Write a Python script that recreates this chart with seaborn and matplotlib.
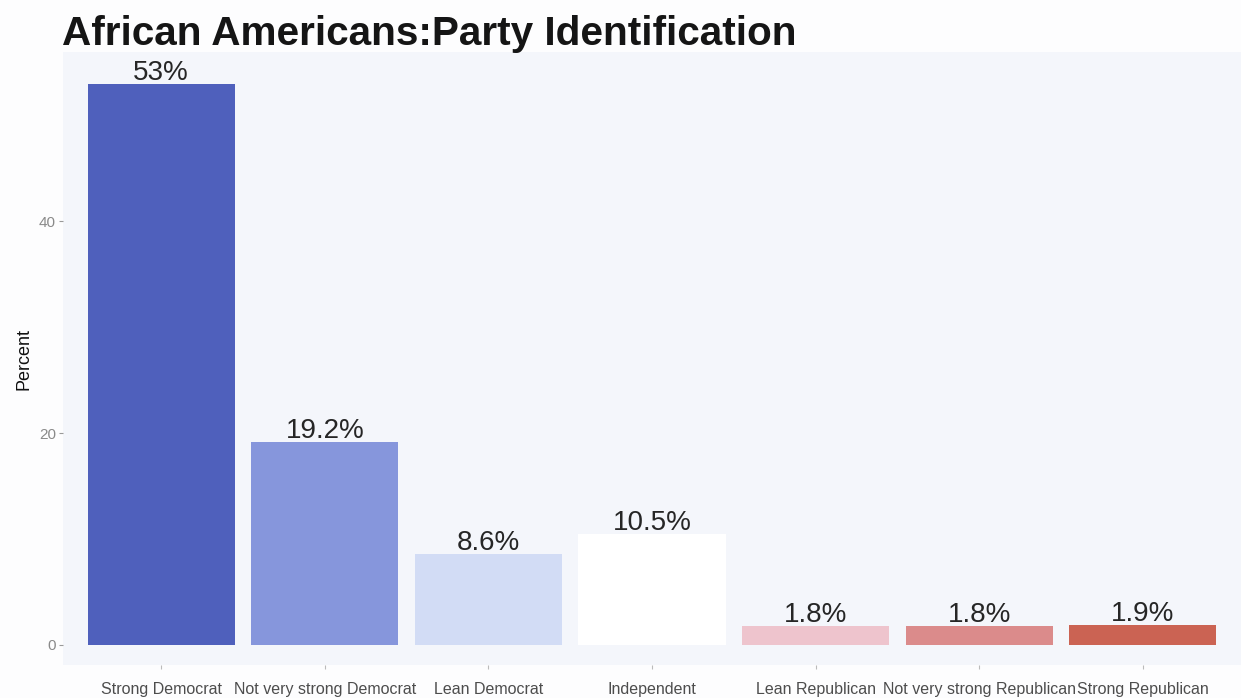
import matplotlib
matplotlib.use("Agg")
import matplotlib.pyplot as plt
import seaborn as sns
import pandas as pd

categories = ["Strong Democrat", "Not very strong Democrat", "Lean Democrat",
              "Independent", "Lean Republican", "Not very strong Republican",
              "Strong Republican"]
percent = [53.0, 19.2, 8.6, 10.5, 1.8, 1.8, 1.9]
value_labels = ["53%", "19.2%", "8.6%", "10.5%", "1.8%", "1.8%", "1.9%"]
bar_colors = ["#4F60BC", "#8696DC", "#D2DCF5", "#FFFFFF",
              "#EEC4CD", "#DB8B8B", "#CB6353"]
y_ticks = [0, 20, 40]

sns.set_theme(style="white")
plt.rcParams["font.family"] = ["Liberation Sans", "DejaVu Sans"]

df = pd.DataFrame({"party": categories, "pct": percent})

fig = plt.figure(figsize=(12.41, 6.98), dpi=100, facecolor="#FDFDFE")
ax = fig.add_axes([0.0508, 0.0473, 0.9492, 0.878])
ax.set_facecolor("#F4F6FB")

sns.barplot(data=df, x="party", y="pct", hue="party", order=categories,
            hue_order=categories, palette=bar_colors, width=0.9,
            saturation=1, legend=False, linewidth=0, ax=ax)

for i, (v, lab) in enumerate(zip(percent, value_labels)):
    ax.text(i, v + 0.38, lab, ha="center", va="baseline",
            fontsize=20, color="#262626")

ax.set_xlim(-0.6, 6.6)
ax.set_ylim(-1.9, 56.0)
ax.set_yticks(y_ticks)
ax.set_yticklabels([str(t) for t in y_ticks], fontsize=11, color="#8A8A8A")
ax.set_xticks(range(len(categories)))
ax.set_xticklabels(categories, fontsize=11.5, color="#4D4D4D")
ax.tick_params(axis="y", length=3, width=0.8, color="#999999", pad=2, left=True)
ax.tick_params(axis="x", length=3, width=0.8, color="#BBBBBB", pad=9, bottom=True)
ax.set_xlabel("")
ax.set_ylabel("Percent", fontsize=13, color="#111111", labelpad=5)
for s in ax.spines.values():
    s.set_visible(False)

fig.text(0.05, 0.952, "African Americans:Party Identification",
         fontsize=29.2, fontweight="bold", color="#151515",
         ha="left", va="center")

fig.savefig("out.png", dpi=100, facecolor=fig.get_facecolor())
